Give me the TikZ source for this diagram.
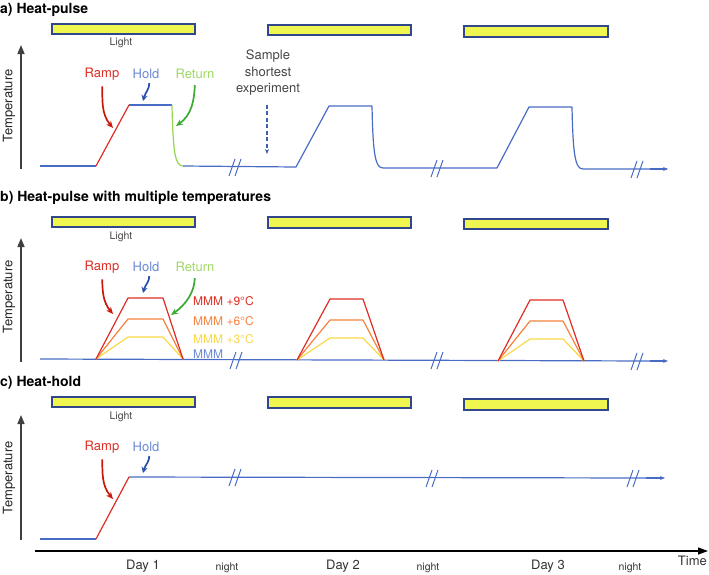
\documentclass[tikz,border=0pt]{standalone}
\usepackage{fontspec}
\setmainfont{TeX Gyre Heros}
\usetikzlibrary{arrows.meta}
\definecolor{cblue}{RGB}{72,108,196}
\definecolor{lblue}{RGB}{105,135,212}
\definecolor{ablue}{RGB}{40,80,170}
\definecolor{cred}{RGB}{222,45,35}
\definecolor{ared}{RGB}{200,25,10}
\definecolor{lgreen}{RGB}{160,215,100}
\definecolor{cgreen}{RGB}{150,212,80}
\definecolor{agreen}{RGB}{60,170,50}
\definecolor{corange}{RGB}{246,130,60}
\definecolor{cyellow}{RGB}{250,215,70}
\definecolor{barfill}{RGB}{240,246,80}
\definecolor{barline}{RGB}{50,70,140}
\definecolor{gtext}{RGB}{70,70,70}
\tikzset{
  lightbar/.style={draw=barline,fill=barfill,line width=1.1pt},
  curve/.style={draw=cblue,line width=1.2pt,line join=round},
  tempaxis/.style={black!75,line width=1.6pt,-{Triangle[length=9pt,width=7pt]}},
  templbl/.style={rotate=90,font=\fontsize{13}{13}\selectfont,text=black!85},
  title/.style={anchor=west,font=\fontsize{14}{14}\selectfont\bfseries,inner sep=0pt},
  small/.style={font=\fontsize{10.5}{10.5}\selectfont,text=gtext},
  lbl/.style={font=\fontsize{13}{13}\selectfont,inner sep=1pt},
  mmm/.style={font=\fontsize{12}{12}\selectfont,anchor=west,inner sep=0pt},
  redarr/.style={draw=ared,line width=1.7pt,-{Stealth[length=7pt,width=6pt]},shorten <=5pt},
  bluearr/.style={draw=ablue,line width=1.7pt,-{Stealth[length=6pt,width=6pt]},shorten <=3pt},
  greenarr/.style={draw=agreen,line width=1.7pt,-{Stealth[length=7pt,width=6pt]},shorten <=5pt},
  brk/.style={draw=cblue,line width=1pt},
  dayl/.style={font=\fontsize{13}{13}\selectfont,text=black!80},
  nightl/.style={font=\fontsize{10.5}{10.5}\selectfont,text=black!80},
}
\begin{document}
\begin{tikzpicture}[x=1pt,y=-1pt]
\useasboundingbox (0,0) rectangle (709,574);
% ---------------- Panel a
\node[title] (ta) at (0,10) {a) Heat-pulse};
\draw[lightbar] (52,24) rectangle (195,34);
\draw[lightbar] (268,25) rectangle (411,35);
\draw[lightbar] (464,26) rectangle (608,37);
\node[small] (la) at (121,43) {Light};
\coordinate (ya0) at (21,169);
\coordinate (ya1) at (21,45);
\draw[tempaxis] (ya0) -- (ya1);
\node[templbl] (tla) at (9,106) {Temperature};
% curve
\draw[curve] (40,166) -- (96,166);
\draw[cred,line width=1.2pt] (96,166) -- (129,105);
\draw[curve] (129,105) -- (172,105);
\draw[cgreen,line width=1.2pt] (172,105) .. controls (173,152) and (175,166) .. (183,166);
\draw[curve] (183,166) -- (296,167) -- (329,106) -- (372,106)
   .. controls (373,153) and (375,168) .. (383,168) -- (497,168) -- (529,107) -- (572,107)
   .. controls (573,154) and (575,169) .. (583,169) -- (667,169);
\draw[cblue,line width=1.2pt,-{Stealth[length=5pt,width=4pt]}] (650,169) -- (668,169);
% breaks
\foreach \x/\y in {234/167,436/168,636/169}{
  \draw[brk] (\x-5,\y+9) -- (\x+1,\y-8);
  \draw[brk] (\x+1,\y+9) -- (\x+7,\y-8);
}
% labels
\node[lbl,text=cred] (rampa) at (102,74) {Ramp};
\node[lbl,text=lblue] (holda) at (146,74) {Hold};
\node[lbl,text=lgreen] (reta) at (195,74) {Return};
\coordinate (rampat) at (113,128);
\coordinate (holdat) at (143,101);
\coordinate (retat) at (176,126);
\draw[redarr] (rampa.south) to[out=-88,in=130] (rampat);
\draw[bluearr] ([xshift=3pt]holda.south) to[out=-85,in=75] (holdat);
\draw[greenarr] (reta.south) to[out=-92,in=35] (retat);
\node[lbl,text=gtext,align=center,font=\fontsize{13}{16.5}\selectfont] (sample) at (268,73) {Sample\\shortest\\experiment};
\coordinate (samplet) at (267,154);
\draw[ablue!90,line width=1.2pt,dash pattern=on 4pt off 2.5pt,-{Stealth[length=5pt,width=4pt]}] (sample.south) ++(-1,8) coordinate (sampletop) -- (samplet);
% ---------------- Panel b
\node[title] (tb) at (0,198) {b) Heat-pulse with multiple temperatures};
\draw[lightbar] (52,217) rectangle (195,227);
\draw[lightbar] (268,217) rectangle (411,228);
\draw[lightbar] (464,219) rectangle (608,229);
\node[small] (lb) at (121,237) {Light};
\draw[tempaxis] (21,362) -- (21,238);
\node[templbl] (tlb) at (9,297) {Temperature};
\draw[curve] (40,359) -- (650,361);
\draw[cblue,line width=1.2pt,-{Stealth[length=5pt,width=4pt]}] (650,361) -- (668,361);
\foreach \x/\y in {235/360,436/360,636/361}{
  \draw[brk] (\x-5,\y+9) -- (\x+1,\y-8);
  \draw[brk] (\x+1,\y+9) -- (\x+7,\y-8);
}
% trapezoids
\foreach \a/\b/\c/\d/\yb/\dy in {96/128/163/183/359/0, 297/330/363/384/360/1, 498/530/563/584/361/2}{
  \draw[cyellow,line width=1.2pt,line join=round] (\a,\yb) -- (\b,337+\dy) -- (\c,337+\dy) -- (\d,\yb);
  \draw[corange,line width=1.2pt,line join=round] (\a,\yb) -- (\b,319+\dy) -- (\c,319+\dy) -- (\d,\yb);
  \draw[cred,line width=1.2pt,line join=round] (\a,\yb) -- (\b,298+\dy) -- (\c,298+\dy) -- (\d,\yb);
}
\node[lbl,text=cred] (rampb) at (102,267) {Ramp};
\node[lbl,text=lblue] (holdb) at (146,267) {Hold};
\node[lbl,text=lgreen] (retb) at (195,267) {Return};
\coordinate (rampbt) at (113,314);
\coordinate (holdbt) at (143,293);
\coordinate (retbt) at (171,315);
\draw[redarr] (rampb.south) to[out=-88,in=130] (rampbt);
\draw[bluearr] ([xshift=3pt]holdb.south) to[out=-85,in=75] (holdbt);
\draw[greenarr] (retb.south) to[out=-92,in=35] (retbt);
\node[mmm,text=cred] (m9) at (193,301) {MMM +9°C};
\node[mmm,text=corange] (m6) at (193,321) {MMM +6°C};
\node[mmm,text=cyellow] (m3) at (193,339) {MMM +3°C};
\node[mmm,text=lblue] (m0) at (193,354) {MMM};
% ---------------- Panel c
\node[title] (tc) at (0,383) {c) Heat-hold};
\draw[lightbar] (52,397) rectangle (195,407);
\draw[lightbar] (268,397) rectangle (411,408);
\draw[lightbar] (464,399) rectangle (608,410);
\node[small] (lc) at (121,417) {Light};
\draw[tempaxis] (21,540) -- (21,415);
\node[templbl] (tlc) at (9,478) {Temperature};
\draw[curve] (40,539) -- (96,539);
\draw[cred,line width=1.2pt] (96,539) -- (129,477);
\draw[curve] (129,477) -- (648,478);
\draw[cblue,line width=1.2pt,-{Stealth[length=5pt,width=4pt]}] (646,478) -- (665,478);
\foreach \x/\y in {234/477,431/478,632/478}{
  \draw[brk] (\x-5,\y+9) -- (\x+1,\y-8);
  \draw[brk] (\x+1,\y+9) -- (\x+7,\y-8);
}
\node[lbl,text=cred] (rampc) at (102,447) {Ramp};
\node[lbl,text=lblue] (holdc) at (146,447) {Hold};
\coordinate (rampct) at (113,499);
\coordinate (holdct) at (143,473);
\draw[redarr] (rampc.south) to[out=-88,in=130] (rampct);
\draw[bluearr] ([xshift=3pt]holdc.south) to[out=-85,in=75] (holdct);
% ---------------- Time axis
\coordinate (t0) at (35,551);
\coordinate (t1) at (708,551);
\draw[black,line width=1.2pt,-{Triangle[length=10pt,width=7pt]}] (t0) -- (t1);
\node[dayl,anchor=east,inner sep=0pt] (time) at (707,561) {Time};
\node[dayl] (d1) at (143,566) {Day 1};
\node[nightl] (n1) at (227,568) {night};
\node[dayl] (d2) at (343,566) {Day 2};
\node[nightl] (n2) at (428,568) {night};
\node[dayl] (d3) at (548,566) {Day 3};
\node[nightl] (n3) at (630,568) {night};
\end{tikzpicture}
\end{document}
